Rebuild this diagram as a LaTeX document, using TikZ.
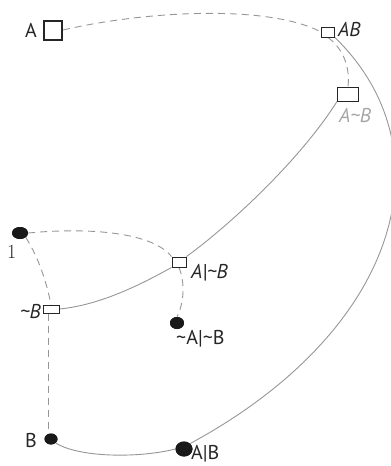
\documentclass[tikz,border=0pt]{standalone}
\usepackage{fontspec}
\setmainfont{PT Sans}
\newfontfamily\serifdigit{Latin Modern Roman}
\usetikzlibrary{shapes.geometric}
\definecolor{edgegray}{RGB}{150,150,150}
\definecolor{labelgray}{RGB}{165,165,165}
\tikzset{
  sq/.style={draw=black!85, rectangle, inner sep=0pt, line width=1pt, fill=white},
  dot/.style={ellipse, fill=black!90, inner sep=0pt},
  dashedge/.style={draw=edgegray, line width=0.9pt, dash pattern=on 7pt off 5pt},
  solidedge/.style={draw=edgegray, line width=0.9pt},
  lab/.style={font=\fontsize{20}{22}\selectfont, inner sep=0pt, text=black!85},
  ilab/.style={lab, font=\fontsize{20}{22}\selectfont\itshape}
}
\begin{document}
\begin{tikzpicture}[x=1pt,y=-1pt]
\useasboundingbox (0,0) rectangle (391,466);
% nodes
\node[sq, line width=2pt, minimum width=18pt, minimum height=19pt] (A) at (53,30) {};
\node[sq, minimum width=13pt, minimum height=10pt] (AB) at (328,32) {};
\node[sq, minimum width=21pt, minimum height=14pt] (AmB) at (348,94) {};
\node[sq, minimum width=14pt, minimum height=10pt] (AnB) at (179,262) {};
\node[sq, minimum width=16pt, minimum height=8pt] (nB) at (51,309) {};
\node[dot, minimum width=16pt, minimum height=12pt] (one) at (20,233) {};
\node[dot, minimum width=14pt, minimum height=12pt] (nAnB) at (177,323) {};
\node[dot, minimum width=13pt, minimum height=11pt] (B) at (51,439) {};
\node[dot, minimum width=17pt, minimum height=15pt] (AorB) at (184,449) {};
% edges
\draw[dashedge] (A.east) .. controls (150,10) and (270,5) .. (AB.west);
\draw[dashedge] (AB.south) .. controls (345,50) and (350,70) .. (AmB.north);
\draw[solidedge] (AB.south east) .. controls (450,150) and (400,330) .. (AorB.north east);
\draw[solidedge] (AmB.south west) .. controls (300,160) and (230,225) .. (AnB.north east);
\draw[solidedge] (AnB.south west) .. controls (140,285) and (100,305) .. (nB.east);
\draw[dashedge] (one.east) .. controls (80,228) and (150,230) .. (AnB.north west);
\draw[dashedge] (one.south east) .. controls (40,260) and (47,285) .. (nB.north);
\draw[dashedge] (AnB.south) .. controls (186,285) and (183,305) .. (nAnB.north);
\draw[dashedge] ([xshift=-3pt]nB.south) -- ([xshift=-3pt]nB.south |- B.north);
\draw[solidedge] (B.south east) .. controls (80,458) and (140,458) .. (AorB.west);
% redraw nodes on top of connectors
\node[sq, line width=2pt, minimum width=18pt, minimum height=19pt] at (A) {};
\node[sq, minimum width=13pt, minimum height=10pt] at (AB) {};
\node[sq, minimum width=21pt, minimum height=14pt] at (AmB) {};
\node[sq, minimum width=14pt, minimum height=10pt] at (AnB) {};
\node[sq, minimum width=16pt, minimum height=8pt] at (nB) {};
\node[dot, minimum width=16pt, minimum height=12pt] at (one) {};
\node[dot, minimum width=14pt, minimum height=12pt] at (nAnB) {};
\node[dot, minimum width=13pt, minimum height=11pt] at (B) {};
\node[dot, minimum width=17pt, minimum height=15pt] at (AorB) {};
% labels
\node[lab, anchor=base east] (lA) at (37,37) {A};
\node[ilab, anchor=base west] (lAB) at (338,36) {AB};
\node[ilab, text=labelgray, anchor=base west] (lAmB) at (339,122) {A\textasciitilde B};
\node[lab, font=\fontsize{20}{22}\selectfont\serifdigit, anchor=base west] (l1) at (7,258) {1};
\node[ilab, anchor=base west] (lAnB) at (191,278) {A|\textasciitilde B};
\node[ilab, anchor=base east] (lnB) at (41,318) {\textasciitilde B};
\node[lab, anchor=base west] (lnAnB) at (176,344) {\textasciitilde A|\textasciitilde B};
\node[lab, anchor=base east] (lB) at (37,447) {B};
\node[lab, anchor=base west] (lAorB) at (191,459) {A|B};
\end{tikzpicture}
\end{document}
